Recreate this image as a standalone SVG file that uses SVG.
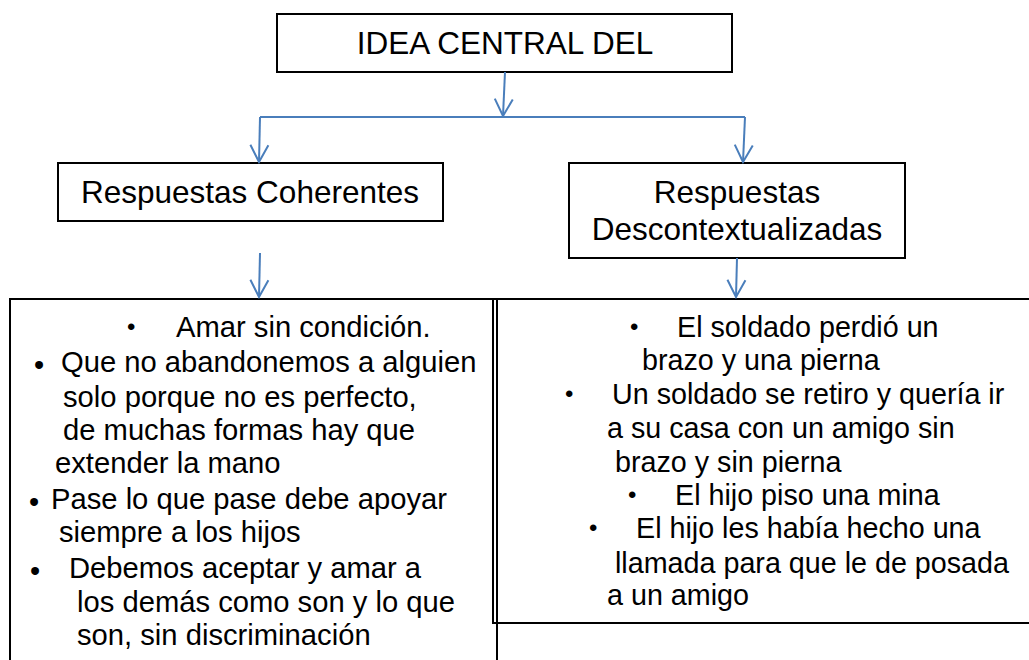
<svg xmlns="http://www.w3.org/2000/svg" width="1029" height="660" viewBox="0 0 1029 660">
<style>
.box{fill:#fff;stroke:#000;stroke-width:2}
.t{font-family:"Liberation Sans",Arial,sans-serif;fill:#000}
.h{font-size:31.5px}
.l{font-size:29.2px}
.r{font-size:28.7px}
.b1{font-size:24px}
.b2{font-size:29px}
.c{fill:none;stroke:#4a7ebb;stroke-width:2}
</style>
<defs>
<marker id="v" viewBox="-20 -12 22 24" refX="0" refY="0" markerWidth="22" markerHeight="24" markerUnits="userSpaceOnUse" orient="auto">
<path d="M-17,-9 L0,0 L-17,9" fill="none" stroke="#4a7ebb" stroke-width="2"/>
</marker>
</defs>
<rect width="1029" height="660" fill="#fff"/>
<g id="n-central">
<rect class="box" x="277" y="14" width="455" height="58"/>
<text class="t h" x="505" y="54" text-anchor="middle">IDEA CENTRAL DEL</text>
</g>
<g id="n-coherentes">
<rect class="box" x="58" y="163" width="385" height="58"/>
<text class="t h" x="250" y="203" text-anchor="middle">Respuestas Coherentes</text>
</g>
<g id="n-descontext">
<rect class="box" x="569" y="163" width="336" height="95"/>
<text class="t h" x="737" y="203" text-anchor="middle">Respuestas</text>
<text class="t h" x="737" y="240" text-anchor="middle">Descontextualizadas</text>
</g>
<g id="n-lista-coherentes">
<rect class="box" x="10" y="299" width="487" height="400"/>
<text class="t b1" x="127" y="335">•</text>
<text class="t l" x="176" y="337">Amar sin condición.</text>
<text class="t b2" x="34" y="375">•</text>
<text class="t l" x="61" y="372">Que no abandonemos a alguien</text>
<text class="t l" x="63" y="407">solo porque no es perfecto,</text>
<text class="t l" x="63" y="440">de muchas formas hay que</text>
<text class="t l" x="55" y="473">extender la mano</text>
<text class="t b2" x="29" y="512">•</text>
<text class="t l" x="51" y="509">Pase lo que pase debe apoyar</text>
<text class="t l" x="59" y="542">siempre a los hijos</text>
<text class="t b2" x="30" y="581">•</text>
<text class="t l" x="69" y="578">Debemos aceptar y amar a</text>
<text class="t l" x="77" y="612">los demás como son y lo que</text>
<text class="t l" x="77" y="645">son, sin discriminación</text>
</g>
<g id="n-lista-descontext">
<rect class="box" x="493" y="299" width="600" height="324"/>
<text class="t b1" x="630" y="335">•</text>
<text class="t r" x="677" y="337">El soldado perdió un</text>
<text class="t r" x="642" y="370">brazo y una pierna</text>
<text class="t b1" x="565" y="402">•</text>
<text class="t r" x="612" y="404">Un soldado se retiro y quería ir</text>
<text class="t r" x="607" y="438">a su casa con un amigo sin</text>
<text class="t r" x="615" y="472">brazo y sin pierna</text>
<text class="t b1" x="628" y="503">•</text>
<text class="t r" x="675" y="505">El hijo piso una mina</text>
<text class="t b1" x="589" y="536">•</text>
<text class="t r" x="636" y="538">El hijo les había hecho una</text>
<text class="t r" x="615" y="573">llamada para que le de posada</text>
<text class="t r" x="607" y="605">a un amigo</text>
</g>
<g id="connectors">
<line class="c" x1="505" y1="72" x2="503" y2="116" marker-end="url(#v)"/>
<polyline class="c" points="260,117 745,117"/>
<line class="c" x1="260" y1="117" x2="259" y2="162" marker-end="url(#v)"/>
<line class="c" x1="745" y1="117" x2="743" y2="162" marker-end="url(#v)"/>
<line class="c" x1="260" y1="253" x2="259" y2="297" marker-end="url(#v)"/>
<line class="c" x1="737" y1="258" x2="736" y2="297" marker-end="url(#v)"/>
</g>
<line x1="497" y1="299" x2="497" y2="660" stroke="#000" stroke-width="2"/>
</svg>
